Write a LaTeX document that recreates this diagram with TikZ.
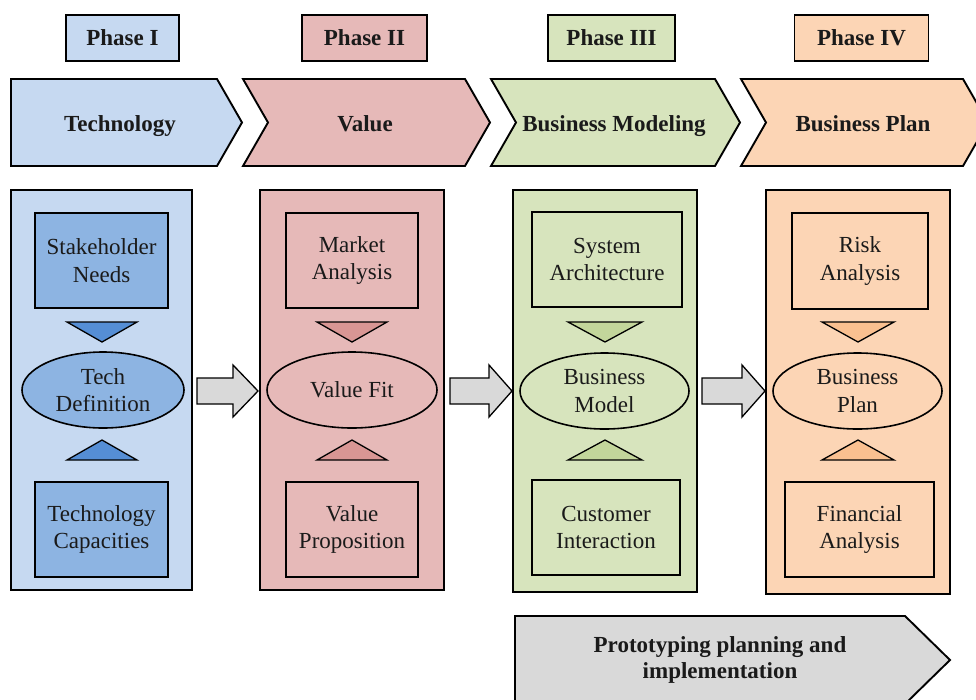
\documentclass[tikz,border=0pt]{standalone}
\usepackage{fontspec}
\setmainfont{Liberation Serif}
\usetikzlibrary{shapes.geometric}
\definecolor{blueA}{HTML}{C6D9F1}
\definecolor{blueB}{HTML}{8DB4E2}
\definecolor{blueC}{HTML}{558ED5}
\definecolor{redA}{HTML}{E6B9B8}
\definecolor{redC}{HTML}{D99694}
\definecolor{greenA}{HTML}{D7E4BD}
\definecolor{greenC}{HTML}{C3D69B}
\definecolor{orangeA}{HTML}{FCD5B5}
\definecolor{orangeC}{HTML}{FAC090}
\definecolor{grayA}{HTML}{D9D9D9}
\definecolor{ink}{HTML}{1A1A1A}

\begin{document}
\begin{tikzpicture}[x=1pt,y=-1pt,
  every node/.style={text=ink, align=center, inner sep=0pt},
  body/.style={font=\fontsize{23}{27.5}\selectfont},
  head/.style={font=\fontsize{23}{26}\selectfont\bfseries},
  phasebox/.style={draw=black, line width=1.9pt, minimum height=46, head},
  chev/.style={draw=black, line width=1.9pt, line join=miter},
  colbox/.style={draw=black, line width=1.9pt, rectangle},
  innerbox/.style={draw=black, line width=1.9pt, rectangle, body},
  ell/.style={draw=black, line width=1.6pt, ellipse, minimum height=76},
  tri/.style={draw=black, line width=1.3pt, line join=miter},
  blockarrow/.style={draw=black, line width=1.3pt, fill=grayA, line join=miter}]
\useasboundingbox (0,0) rectangle (976,699);
\clip (0,0) rectangle (976,699);

% phase labels
\node[phasebox, fill=blueA, minimum width=113] (p1) at (122.5,38) {Phase I};
\node[phasebox, fill=redA, minimum width=125] (p2) at (364.5,38) {Phase II};
\node[phasebox, fill=greenA, minimum width=127] (p3) at (611.5,38) {Phase III};
\node[phasebox, fill=orangeA, minimum width=134] (p4) at (861.5,38) {Phase IV};

% stage chevrons
\draw[chev, fill=blueA] (11,79) -- (217,79) -- (242,122.5) -- (217,166) -- (11,166) -- cycle;
\draw[chev, fill=redA] (243,79) -- (465,79) -- (490,122.5) -- (465,166) -- (243,166) -- (268,122.5) -- cycle;
\draw[chev, fill=greenA] (491,79) -- (715,79) -- (740,122.5) -- (715,166) -- (491,166) -- (516,122.5) -- cycle;
\draw[chev, fill=orangeA] (741,79) -- (963,79) -- (988,122.5) -- (963,166) -- (741,166) -- (766,122.5) -- cycle;
\node[head, anchor=base] (s1) at (120,131) {Technology};
\node[head, anchor=base] (s2) at (365,131) {Value};
\node[head, anchor=base] (s3) at (614,131) {Business Modeling};
\node[head, anchor=base] (s4) at (863,131) {Business Plan};

% ---- Phase I column
\node[colbox, fill=blueA, minimum width=181, minimum height=400] (c1) at (101.5,390) {};
\node[innerbox, fill=blueB, minimum width=133, minimum height=95] (c1t) at (101.5,260.5) {Stakeholder\\Needs};
\draw[tri, fill=blueC] (67,322) -- (137,322) -- (102,342) -- cycle;
\node[ell, fill=blueB, minimum width=162] (c1e) at (103,390) {};
\node[body] at (c1e) {Tech\\Definition};
\draw[tri, fill=blueC] (67,460) -- (137,460) -- (102,440) -- cycle;
\node[innerbox, fill=blueB, minimum width=133, minimum height=95] (c1b) at (101.5,529.5) {Technology\\Capacities};

% ---- Phase II column
\node[colbox, fill=redA, minimum width=184, minimum height=400] (c2) at (352,390) {};
\node[innerbox, fill=redA, minimum width=132, minimum height=95] (c2t) at (352,260.5) {Market\\Analysis};
\draw[tri, fill=redC] (317,322) -- (387,322) -- (352,342) -- cycle;
\node[ell, fill=redA, minimum width=170] (c2e) at (352,390) {};
\node[body] at (c2e) {Value Fit};
\draw[tri, fill=redC] (317,460) -- (387,460) -- (352,440) -- cycle;
\node[innerbox, fill=redA, minimum width=132, minimum height=95] (c2b) at (352,529.5) {Value\\Proposition};

% ---- Phase III column
\node[colbox, fill=greenA, minimum width=184, minimum height=402] (c3) at (605,391) {};
\node[innerbox, fill=greenA, minimum width=150, minimum height=95] (c3t) at (607,259.5) {System\\Architecture};
\draw[tri, fill=greenC] (568,322) -- (642,322) -- (605,342) -- cycle;
\node[ell, fill=greenA, minimum width=169] (c3e) at (604.5,391) {};
\node[body] at (c3e) {Business\\Model};
\draw[tri, fill=greenC] (568,460) -- (642,460) -- (605,440) -- cycle;
\node[innerbox, fill=greenA, minimum width=148, minimum height=95] (c3b) at (606,527.5) {Customer\\Interaction};

% ---- Phase IV column
\node[colbox, fill=orangeA, minimum width=184, minimum height=404] (c4) at (858,392) {};
\node[innerbox, fill=orangeA, minimum width=136, minimum height=96] (c4t) at (860,261) {Risk\\Analysis};
\draw[tri, fill=orangeC] (822,322) -- (894,322) -- (858,342) -- cycle;
\node[ell, fill=orangeA, minimum width=169] (c4e) at (857.5,391) {};
\node[body] at (c4e) {Business\\Plan};
\draw[tri, fill=orangeC] (822,460) -- (894,460) -- (858,440) -- cycle;
\node[innerbox, fill=orangeA, minimum width=149, minimum height=95] (c4b) at (859.5,529.5) {Financial\\Analysis};

% block arrows between the columns
\draw[blockarrow] (197,378) -- (233,378) -- (233,365) -- (258,391) -- (233,417) -- (233,404) -- (197,404) -- cycle;
\draw[blockarrow] (450,378) -- (489,378) -- (489,365) -- (512,391) -- (489,417) -- (489,404) -- (450,404) -- cycle;
\draw[blockarrow] (702,378) -- (742,378) -- (742,365) -- (765,391) -- (742,417) -- (742,404) -- (702,404) -- cycle;

% prototyping banner
\draw[chev, fill=grayA] (515,616) -- (905,616) -- (950,660) -- (905,704) -- (515,704) -- cycle;
\node[head] (proto) at (720,660) {Prototyping planning and\\implementation};
\end{tikzpicture}
\end{document}
